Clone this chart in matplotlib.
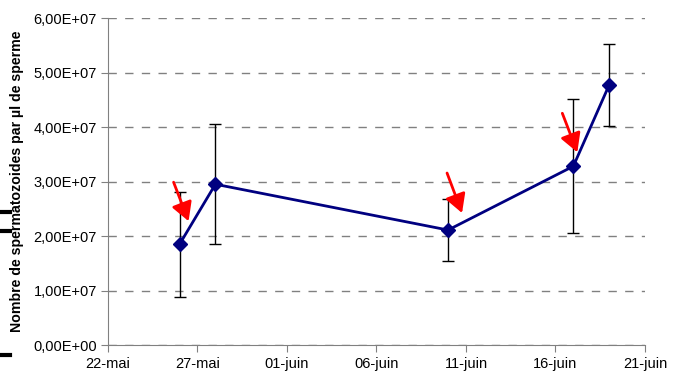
import datetime as dt

import matplotlib
matplotlib.use("Agg")
import matplotlib.dates as mdates
import matplotlib.pyplot as plt
import numpy as np
from matplotlib.lines import Line2D
from matplotlib.ticker import FuncFormatter, MultipleLocator
from matplotlib.transforms import ScaledTranslation

plt.rcParams['font.family'] = ['Liberation Sans', 'DejaVu Sans']

# sampling dates and sperm counts (per µl) with standard deviation
dates = [dt.date(2008, 5, 26), dt.date(2008, 5, 28), dt.date(2008, 6, 10),
         dt.date(2008, 6, 17), dt.date(2008, 6, 19)]
counts = [1.85e7, 2.95e7, 2.11e7, 3.28e7, 4.77e7]
errors = [0.96e7, 1.10e7, 0.57e7, 1.23e7, 0.76e7]

# samples flagged with a red arrow (index into dates)
flagged = [0, 2, 3]

mois = {5: 'mai', 6: 'juin'}


def date_fr(x, pos=None):
    d = mdates.num2date(x)
    return f"{d.day:02d}-{mois.get(d.month, d.month)}"


def sci_fr(v, pos=None):
    return f"{v:.2E}".replace('.', ',')


fig = plt.figure(figsize=(6.81, 3.73), dpi=100)
ax = fig.add_axes([0.1586, 0.075, 0.7884, 0.8767])

x = mdates.date2num(dates)
ax.errorbar(x, counts, yerr=errors, fmt='none', ecolor='black', elinewidth=1,
            capsize=4, capthick=1, zorder=2)
ax.plot(x, counts, color='#000080', lw=2, marker='D', markersize=7,
        markerfacecolor='#000080', markeredgecolor='#000080', zorder=3)

# red arrows pointing at the flagged samples
offsets = [((9, -23), (-15, -39)), ((14, -17), (-15, -40)), ((4, -14), (-15, -39))]
for i, ((tx, ty), (sx, sy)) in zip(flagged, offsets):
    tip = ax.transData + ScaledTranslation(tx / 100, -ty / 100, fig.dpi_scale_trans)
    ax.annotate('', xy=(x[i], counts[i]), xycoords=tip,
                xytext=(sx * 0.72, -sy * 0.72), textcoords='offset points',
                arrowprops=dict(arrowstyle='-|>,head_length=0.8,head_width=0.45',
                                color='red', lw=2, mutation_scale=14,
                                shrinkA=0, shrinkB=0))

# x axis: one tick every 5 days from 22 May
start = mdates.date2num(dt.date(2008, 5, 22))
ax.set_xlim(start, start + 30)
ax.set_xticks(np.arange(start, start + 31, 5))
ax.xaxis.set_major_formatter(FuncFormatter(date_fr))
ax.set_ylim(0, 6e7)
ax.yaxis.set_major_locator(MultipleLocator(1e7))
ax.yaxis.set_major_formatter(FuncFormatter(sci_fr))

ax.grid(axis='y', color='#808080', linestyle=(0, (6, 6)), lw=1)
ax.set_axisbelow(True)
for s in ['top', 'right']:
    ax.spines[s].set_visible(False)
for s in ['left', 'bottom']:
    ax.spines[s].set_color('#808080')
ax.tick_params(axis='both', colors='#808080', labelcolor='black', labelsize=10.5, length=5)
ax.tick_params(axis='y', pad=3)

ax.set_ylabel('Nombre de spermatozoides par µl de sperme', fontsize=10.2,
              fontweight='bold', labelpad=2)
ax.yaxis.set_label_coords(-0.156, 0.50)

# small black bars at the left edge
for yp in [212, 231, 355]:
    yf = 1 - yp / 373
    fig.add_artist(Line2D([0, 10 / 681], [yf, yf], color='black', lw=3))

fig.savefig('out.png', dpi=100)
